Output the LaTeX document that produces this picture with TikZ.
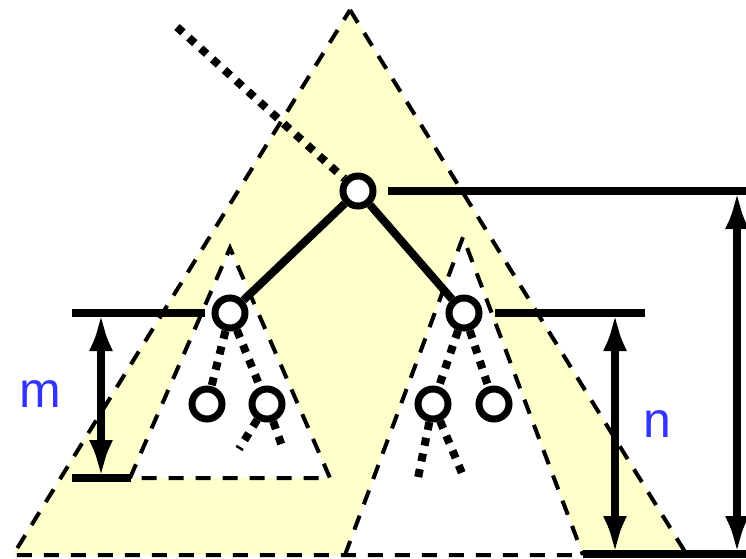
\documentclass[tikz,border=0pt]{standalone}
\usepackage{fontspec}
\setmainfont{Liberation Sans}
\usetikzlibrary{arrows.meta}
\definecolor{bandyellow}{RGB}{255,255,204}
\definecolor{labelblue}{RGB}{51,51,255}
\tikzset{
  treenode/.style={circle,draw=black,fill=white,line width=7pt,minimum size=30pt,inner sep=0pt},
  dashline/.style={line width=4pt,dash pattern=on 15pt off 12pt},
  dotline/.style={line width=8pt,dash pattern=on 8pt off 8pt},
  solidline/.style={line width=8pt},
  dimarrow/.style={line width=8pt,{Latex[length=38pt,width=24pt]}-{Latex[length=38pt,width=24pt]}},
  lbl/.style={text=labelblue,font=\fontsize{50}{50}\selectfont,inner sep=0pt}
}
\begin{document}
\begin{tikzpicture}[x=1pt,y=-1pt]
\useasboundingbox (0,0) rectangle (746,558);
% yellow band
\fill[bandyellow,even odd rule]
  (350,10) -- (687,555) -- (13,555) -- cycle
  (230,248) -- (130,478) -- (330,478) -- cycle
  (463,237) -- (345,555) -- (583,555) -- cycle;
% dashed outlines
\draw[dashline] (350,10) -- (687,555) -- (13,555) -- cycle;
\draw[dashline] (130,478) -- (230,248) -- (330,478) -- cycle;
\draw[dashline] (345,555) -- (463,237) -- (583,555);
% nodes
\node[treenode] (root) at (358,191) {};
\node[treenode] (lc) at (230,313) {};
\node[treenode] (rc) at (464,313) {};
\node[treenode] (lgl) at (207,404) {};
\node[treenode] (lgr) at (267,404) {};
\node[treenode] (rgl) at (433,404) {};
\node[treenode] (rgr) at (494,404) {};
% free ends
\coordinate (up) at (177,27);
\coordinate (lgra) at (239,449);
\coordinate (lgrb) at (283,449);
\coordinate (rgla) at (418,478);
\coordinate (rglb) at (464,478);
% edges
\draw[dotline] (up) -- (root);
\draw[solidline] (root) -- (lc);
\draw[solidline] (root) -- (rc);
\draw[dotline] (lc) -- (lgl);
\draw[dotline] (lc) -- (lgr);
\draw[dotline] (rc) -- (rgl);
\draw[dotline] (rc) -- (rgr);
\draw[dotline] (lgr) -- (lgra);
\draw[dotline] (lgr) -- (lgrb);
\draw[dotline] (rgl) -- (rgla);
\draw[dotline] (rgl) -- (rglb);
% level lines
\coordinate (h1a) at (388,191); \coordinate (h1b) at (746,191);
\coordinate (h2a) at (72,313);  \coordinate (h2b) at (205,313);
\coordinate (h3a) at (495,313); \coordinate (h3b) at (645,313);
\coordinate (h4a) at (72,478);  \coordinate (h4b) at (131,478);
\coordinate (h5a) at (583,554); \coordinate (h5b) at (746,554);
\draw[solidline] (h1a) -- (h1b);
\draw[solidline] (h2a) -- (h2b);
\draw[solidline] (h3a) -- (h3b);
\draw[solidline] (h4a) -- (h4b);
\draw[solidline] (h5a) -- (h5b);
% dimension arrows
\coordinate (ma) at (101,313); \coordinate (mb) at (101,478);
\coordinate (na) at (615,313); \coordinate (nb) at (615,554);
\coordinate (ta) at (737,191); \coordinate (tb) at (737,554);
\draw[dimarrow] (ma) -- (mb);
\draw[dimarrow] (na) -- (nb);
\draw[dimarrow] (ta) -- (tb);
% labels
\node[lbl] (mlabel) at (40,394) {m};
\node[lbl] (nlabel) at (657,424) {n};
\end{tikzpicture}
\end{document}
